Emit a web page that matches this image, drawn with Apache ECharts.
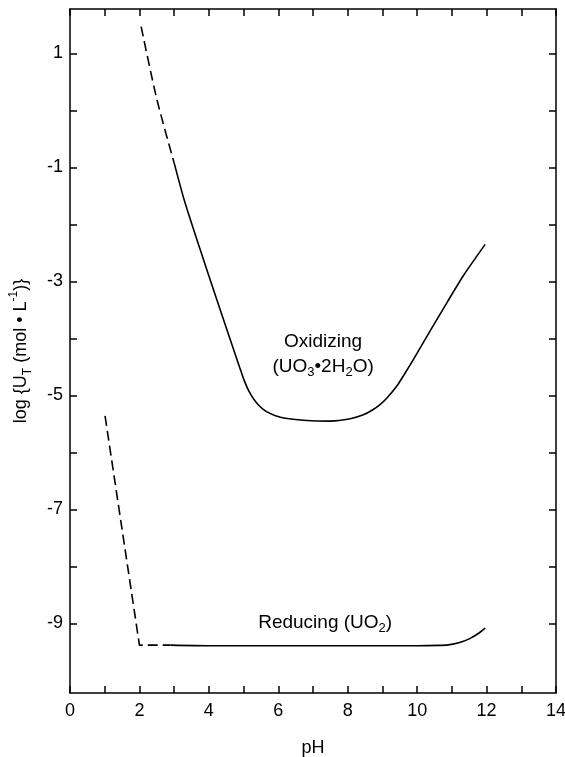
<!DOCTYPE html>
<html>
<head>
<meta charset="utf-8">
<script src="https://cdn.jsdelivr.net/npm/echarts@6/dist/echarts.min.js"></script>
<style>html,body{margin:0;padding:0;background:#fff}#c{width:565px;height:757px}</style>
</head>
<body>
<div id="c"></div>
<script>
// ---- data ----
var oxidizingDashed = [[2.05, 1.47], [2.5, 0.2], [3.0, -0.92]];
var oxidizingSolid = [[3.0, -0.92], [3.29, -1.57], [3.75, -2.44], [4.23, -3.32], [4.71, -4.19], [4.9, -4.53],
  [5.02, -4.74], [5.15, -4.92], [5.3, -5.07], [5.45, -5.18], [5.65, -5.28], [5.9, -5.35], [6.2, -5.40],
  [6.82, -5.44], [7.49, -5.45], [8.07, -5.41], [8.45, -5.34], [8.7, -5.26], [8.93, -5.16], [9.15, -5.03],
  [9.41, -4.84], [9.65, -4.61], [9.89, -4.37], [10.37, -3.87], [10.86, -3.37], [11.33, -2.9], [11.96, -2.35]];
var reducingDashed = [[1.01, -5.36], [2.0, -9.38], [2.9, -9.38]];
var reducingSolid = [[2.9, -9.38], [4, -9.39], [6, -9.39], [8, -9.39], [10, -9.39], [10.6, -9.385],
  [10.9, -9.375], [11.2, -9.34], [11.5, -9.27], [11.75, -9.18], [11.96, -9.08]];
var xTicks = [0, 1, 2, 3, 4, 5, 6, 7, 8, 9, 10, 11, 12, 13, 14];
var xLabels = [0, 2, 4, 6, 8, 10, 12, 14];
var yTicks = [-9, -8, -7, -6, -5, -4, -3, -2, -1, 0, 1];
var yLabels = [-9, -7, -5, -3, -1, 1];
var annotations = [
  {pos: [7.29, -4.27], text: 'Oxidizing\n(UO{sub|3}•2H{sub|2}O)'},
  {pos: [7.35, -8.98], text: 'Reducing (UO{sub|2})'}
];
var xRange = [0, 14];
var yRange = [-10.22, 1.78];

// ---- chart ----
var FONT = "'Liberation Sans', Arial, Helvetica, sans-serif";
var chart = echarts.init(document.getElementById('c'), null, {renderer: 'canvas'});
var lineStyleAxis = {color: '#000', width: 1.5};
function mkX(pos, showLabel) {
  return {
    type: 'value', position: pos, min: xRange[0], max: xRange[1],
    axisLine: {show: true, onZero: false, lineStyle: lineStyleAxis},
    axisTick: {show: true, inside: true, length: 7, lineStyle: lineStyleAxis, customValues: xTicks},
    axisLabel: {show: showLabel, customValues: xLabels, color: '#000', fontSize: 18, fontFamily: FONT, margin: 9},
    splitLine: {show: false},
    name: showLabel ? 'pH' : '', nameLocation: 'middle', nameGap: 46,
    nameTextStyle: {color: '#000', fontSize: 18, fontFamily: FONT}
  };
}
function mkY(pos, showLabel) {
  return {
    type: 'value', position: pos, min: yRange[0], max: yRange[1],
    axisLine: {show: true, onZero: false, lineStyle: lineStyleAxis},
    axisTick: {show: true, inside: true, length: 7, lineStyle: lineStyleAxis, customValues: yTicks},
    axisLabel: {show: showLabel, customValues: yLabels, color: '#000', fontSize: 18, fontFamily: FONT, margin: 7},
    splitLine: {show: false},
    name: showLabel ? 'log {U{sub|T} (mol • L{sup|-1})}' : '', nameLocation: 'middle', nameGap: 36,
    nameTextStyle: {
      color: '#000', fontSize: 18, fontFamily: FONT, lineHeight: 26,
      rich: {
        sub: {fontSize: 12, fontFamily: FONT, color: '#000', verticalAlign: 'bottom', lineHeight: 26},
        sup: {fontSize: 12, fontFamily: FONT, color: '#000', verticalAlign: 'top', lineHeight: 26}
      }
    }
  };
}
var lineBase = {type: 'line', showSymbol: false, symbol: 'none', silent: true, animation: false, smooth: 0.25};
function mkLine(data, dashed) {
  return Object.assign({}, lineBase, {
    data: data,
    lineStyle: {color: '#000', width: 1.6, type: dashed ? [10, 5] : 'solid'}
  });
}
var option = {
  animation: false,
  backgroundColor: '#fff',
  grid: {left: 70, right: 9, top: 9, bottom: 64, containLabel: false, outerBoundsMode: 'none'},
  xAxis: [mkX('bottom', true), mkX('top', false)],
  yAxis: [mkY('left', true), mkY('right', false)],
  series: [
    mkLine(oxidizingDashed, true),
    mkLine(oxidizingSolid, false),
    Object.assign(mkLine(reducingDashed, true), {smooth: false}),
    mkLine(reducingSolid, false),
    {
      type: 'scatter', symbolSize: 0, silent: true, itemStyle: {color: '#000'},
      data: annotations.map(function (a) { return {value: a.pos, label: {formatter: a.text}}; }),
      label: {
        show: true, position: 'inside', color: '#000', textBorderWidth: 0, opacity: 1,
        fontSize: 19, fontFamily: FONT, lineHeight: 25, align: 'center',
        rich: {
          sub: {fontSize: 13, fontFamily: FONT, color: '#000', textBorderWidth: 0, verticalAlign: 'bottom', lineHeight: 25}
        }
      }
    }
  ]
};
chart.setOption(option);
</script>
</body>
</html>
